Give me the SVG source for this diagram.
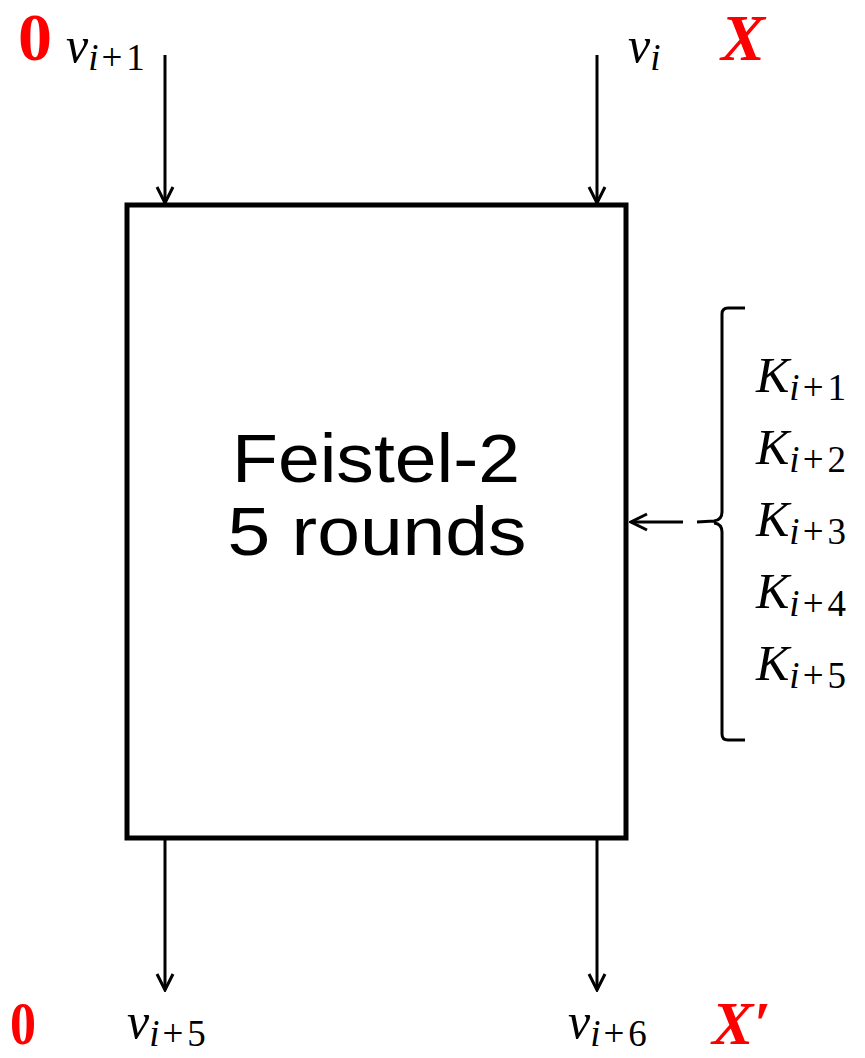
<svg xmlns="http://www.w3.org/2000/svg" width="865" height="1058" viewBox="0 0 865 1058">
<style>
.m{font-family:"Liberation Serif",serif;font-style:italic;font-size:50px;fill:#000}
.b{font-size:37px;letter-spacing:3px}
.u{font-style:normal;font-size:37px;letter-spacing:4px}
.r{font-family:"Liberation Serif",serif;font-weight:bold;fill:#ff0000}
.c{stroke:#000;stroke-width:3;fill:none}
.t{font-family:"Liberation Sans",sans-serif;font-size:68px;fill:#000}
</style>
<defs>
<marker id="ah" viewBox="0 0 20 20" refX="18" refY="10" markerWidth="20" markerHeight="20" markerUnits="userSpaceOnUse" orient="auto">
<path d="M2,2 L18,10 L2,18" fill="none" stroke="#000" stroke-width="3"/>
</marker>
</defs>
<rect width="865" height="1058" fill="#fff"/>
<g id="box">
<rect x="127" y="205" width="499" height="633" fill="#fff" stroke="#000" stroke-width="5"/>
<text class="t" x="376" y="482" text-anchor="middle" textLength="288" lengthAdjust="spacingAndGlyphs">Feistel-2</text>
<text class="t" x="377" y="555" text-anchor="middle" textLength="299" lengthAdjust="spacingAndGlyphs">5 rounds</text>
</g>
<g id="connectors">
<line class="c" x1="165" y1="55" x2="165" y2="203" marker-end="url(#ah)"/>
<line class="c" x1="597" y1="55" x2="597" y2="203" marker-end="url(#ah)"/>
<line class="c" x1="165" y1="840" x2="165" y2="990" marker-end="url(#ah)"/>
<line class="c" x1="597" y1="840" x2="597" y2="990" marker-end="url(#ah)"/>
<line class="c" x1="683" y1="522" x2="631" y2="522" marker-end="url(#ah)"/>
</g>
<g id="brace">
<path class="c" d="M745,308 L728,308 Q722,308 722,314 L722,512 Q722,520 714,521 L697,522 M714,523 Q722,524 722,532 L722,734 Q722,740 728,740 L745,740"/>
</g>
<g id="top-labels">
<text class="r" x="18" y="60" font-size="68">0</text>
<text class="m" x="66" y="62">v<tspan class="b" dy="8">i</tspan><tspan class="u">+1</tspan></text>
<text class="m" x="628" y="62">v<tspan class="b" dy="8">i</tspan></text>
<text class="r" x="721" y="60" font-size="66" font-style="italic">X</text>
</g>
<g id="keys">
<text class="m" x="756" y="392">K<tspan class="b" dy="8">i</tspan><tspan class="u">+1</tspan></text>
<text class="m" x="756" y="464">K<tspan class="b" dy="8">i</tspan><tspan class="u">+2</tspan></text>
<text class="m" x="756" y="536">K<tspan class="b" dy="8">i</tspan><tspan class="u">+3</tspan></text>
<text class="m" x="756" y="608">K<tspan class="b" dy="8">i</tspan><tspan class="u">+4</tspan></text>
<text class="m" x="756" y="680">K<tspan class="b" dy="8">i</tspan><tspan class="u">+5</tspan></text>
</g>
<g id="bottom-labels">
<text class="r" x="10" y="1044" font-size="62" textLength="26" lengthAdjust="spacingAndGlyphs">0</text>
<text class="m" x="127" y="1038">v<tspan class="b" dy="8">i</tspan><tspan class="u">+5</tspan></text>
<text class="m" x="568" y="1038">v<tspan class="b" dy="8">i</tspan><tspan class="u">+6</tspan></text>
<text class="r" x="712" y="1044" font-size="62" font-style="italic">X′</text>
</g>
</svg>
